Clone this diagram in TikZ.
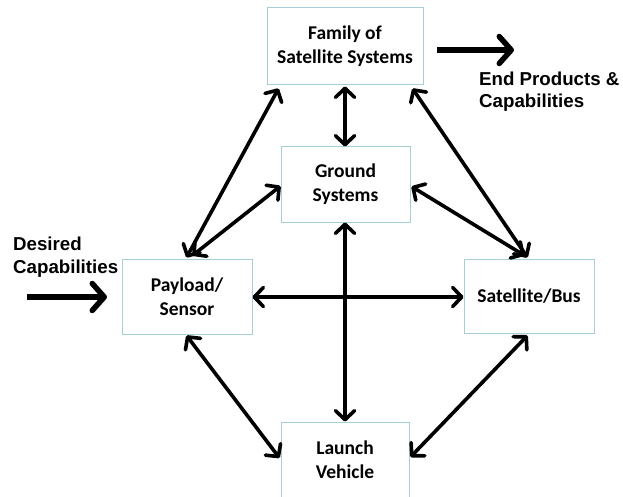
\documentclass[tikz,border=0pt]{standalone}
\usepackage{fontspec}
\setmainfont{Carlito}
\newfontfamily\lblfont{Liberation Sans}
\usetikzlibrary{arrows.meta,calc}
\definecolor{boxline}{RGB}{165,207,212}
\tikzset{
  box/.style={draw=boxline, line width=1pt, fill=white, inner sep=0pt, align=center,
    font=\fontsize{19.5}{24}\selectfont\bfseries},
  link/.style={line width=3.6pt, line cap=round, line join=round,
    {Straight Barb[length=9pt,width=19pt,line join=round,line cap=round]}-{Straight Barb[length=9pt,width=19pt,line join=round,line cap=round]}},
  bigarrow/.style={line width=5.5pt,
    -{Straight Barb[length=12pt,width=27pt,line join=round,line cap=round]}},
  lbl/.style={inner sep=0pt, align=left, font=\lblfont\fontsize{18.7}{22.5}\selectfont\bfseries}
}
\begin{document}
\begin{tikzpicture}[x=1pt,y=-1pt]
\useasboundingbox (0,0) rectangle (623,497);
\node[box, minimum width=156pt, minimum height=77pt] (fam) at (345,46.5) {Family of\\Satellite Systems};
\node[box, minimum width=129pt, minimum height=75pt] (gnd) at (345.5,184.5) {Ground\\Systems};
\node[box, minimum width=130pt, minimum height=75pt] (pay) at (187,296.5) {Payload/\\Sensor};
\node[box, minimum width=130pt, minimum height=74pt] (sat) at (529,296) {Satellite/Bus};
\node[box, minimum width=128pt, minimum height=75pt] (lau) at (345,459.5) {Launch\\Vehicle};

\node[lbl, anchor=base west] (des) at (13,273) {Desired\\Capabilities};
\node[lbl, anchor=base west] (end) at (479,108) {End Products \&\\Capabilities};

\coordinate (inS) at (27,297);
\coordinate (inE) at (107,297);
\coordinate (outS) at (437,50);
\coordinate (outE) at (514,50);
\draw[bigarrow] (inS) -- (inE);
\draw[bigarrow] (outS) -- (outE);

% vertical links
\draw[link] ($(fam.south)+(0,1)$) -- ($(gnd.north)+(-0.5,0)$);
\draw[link] ($(gnd.south)+(-0.5,0)$) -- ($(lau.north)+(0,0)$);
% horizontal link
\draw[link] ($(pay.east)+(0,0.5)$) -- ($(sat.west)+(0,1)$);
% diagonal links
\draw[link] ($(fam.south west)+(12,3)$) -- ($(pay.north west)+(65,-1)$);
\draw[link] ($(gnd.west)+(0,1.5)$) -- ($(pay.north west)+(71,-3)$);
\draw[link] ($(fam.south east)+(-11,3)$) -- ($(sat.north west)+(64,-1)$);
\draw[link] ($(gnd.east)+(1,2)$) -- ($(sat.north west)+(61,-3)$);
\draw[link] ($(pay.south west)+(65,1)$) -- ($(lau.west)+(-1,-1.5)$);
\draw[link] ($(sat.south west)+(64,2)$) -- ($(lau.east)+(1,-2.5)$);
\end{tikzpicture}
\end{document}
